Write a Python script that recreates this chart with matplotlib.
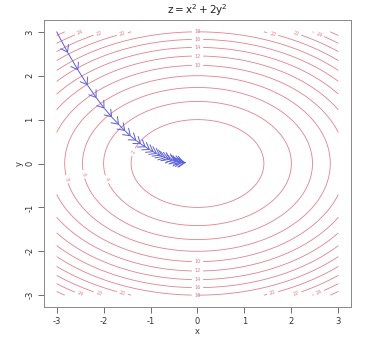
import numpy as np
import matplotlib.pyplot as plt

# contour levels of z = x^2 + 2y^2
levels = [2, 4, 6, 8, 10, 12, 14, 16, 18, 20, 22, 24, 26]

# gradient descent path
path_x = [-3.00, -2.76, -2.54, -2.34, -2.15, -1.98, -1.82, -1.67, -1.54, -1.42,
          -1.30, -1.20, -1.10, -1.01, -0.93, -0.86, -0.79, -0.73, -0.67, -0.61,
          -0.57, -0.52, -0.48, -0.44, -0.41, -0.37, -0.34, -0.32, -0.29, -0.27, -0.25]
path_y = [3.00, 2.52, 2.12, 1.78, 1.49, 1.25, 1.05, 0.88, 0.74, 0.62,
          0.52, 0.44, 0.37, 0.31, 0.26, 0.22, 0.18, 0.15, 0.13, 0.11,
          0.09, 0.08, 0.06, 0.05, 0.04, 0.04, 0.03, 0.03, 0.02, 0.02, 0.02]

ticks = [-3, -2, -1, 0, 1, 2, 3]

# where the contour labels sit
label_pos = [(-2.5, 2.98), (-2.1, 2.97), (-1.6, 2.95), (0, 3.0), (0, 2.83), (0, 2.65),
             (0, 2.45), (0, 2.24), (1.6, 2.95), (2.1, 2.97), (2.6, 2.98),
             (-2.5, -2.98), (-2.1, -2.97), (-1.6, -2.95), (0, -3.0), (0, -2.83),
             (0, -2.65), (0, -2.45), (0, -2.24), (1.6, -2.95), (2.1, -2.97), (2.6, -2.98),
             (-1.38, 0.27), (-1.94, -0.36), (-2.45, -0.25), (-2.79, -0.36)]

xs = np.linspace(-3, 3, 301)
ys = np.linspace(-3, 3, 301)
X, Y = np.meshgrid(xs, ys)
Z = X**2 + 2 * Y**2

fig = plt.figure(figsize=(3.71, 3.40), dpi=100)
ax = fig.add_axes([44/371, 33/340, 307/371, 287/340])

line_col = '#e5808e'
cs = ax.contour(X, Y, Z, levels=levels, colors=line_col, linewidths=0.6)
cl = ax.clabel(cs, fmt='%d', fontsize=3.6, inline=True, inline_spacing=3, manual=label_pos)

arrow_col = '#5a5ee0'
for i in range(len(path_x) - 1):
    ax.annotate('', xy=(path_x[i+1], path_y[i+1]), xytext=(path_x[i], path_y[i]),
                arrowprops=dict(arrowstyle='->,head_length=0.5,head_width=0.35',
                                color=arrow_col, lw=0.7,
                                shrinkA=0, shrinkB=0, mutation_scale=9))

ax.set_xlim(-3.27, 3.27)
ax.set_ylim(-3.27, 3.27)
ax.set_xticks(ticks)
ax.set_yticks(ticks)
ax.set_xticklabels([str(t) for t in ticks], fontsize=6, color='#333333')
ax.set_yticklabels([str(t) for t in ticks], fontsize=6, color='#333333',
                   rotation=90, va='center')
ax.tick_params(direction='out', length=4, width=0.6, color='#555555', pad=3)
for s in ax.spines.values():
    s.set_color('#888888')
    s.set_linewidth(0.7)

ax.set_xlabel('x', fontsize=6, color='#333333', labelpad=1)
ax.set_ylabel('y', fontsize=6, color='#333333', labelpad=1)
ax.set_title(r'$\mathregular{z = x^2 + 2y^2}$', fontsize=7.5, color='#222222', pad=4)

fig.savefig('out.png', dpi=100)
